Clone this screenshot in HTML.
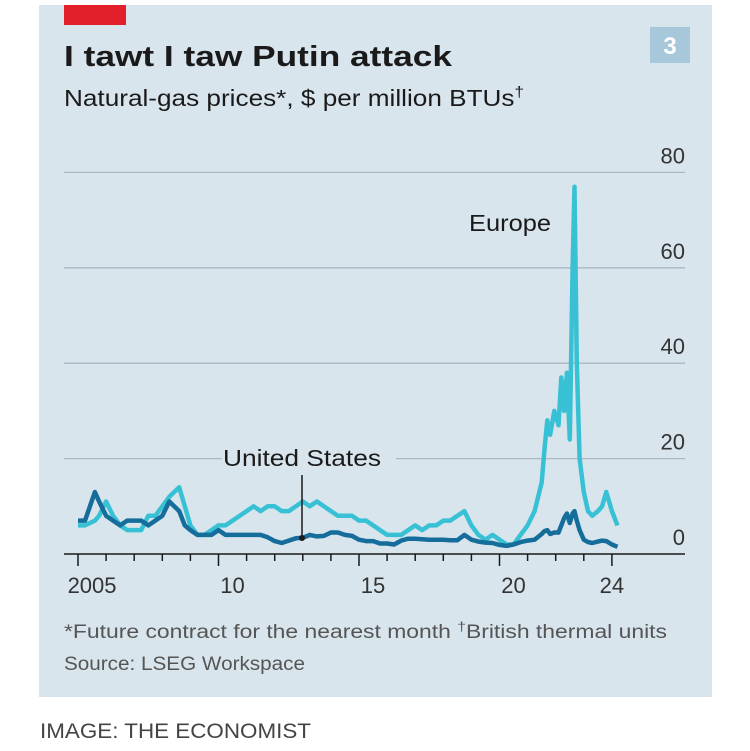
<!DOCTYPE html>
<html><head><meta charset="utf-8"><style>
html,body{margin:0;padding:0;background:#fff;}
svg{display:block;font-family:"Liberation Sans",sans-serif;}
</style></head><body>
<svg id="chart" width="750" height="751" viewBox="0 0 750 751">
<rect x="39" y="5" width="673" height="692" fill="#d8e5ed"/>
<rect x="64" y="5" width="62" height="20" fill="#e3202a"/>
<text x="64" y="66" font-size="29" font-weight="bold" fill="#1a1a1a" textLength="388" lengthAdjust="spacingAndGlyphs">I tawt I taw Putin attack</text>
<text x="64" y="106" font-size="23" fill="#1a1a1a" textLength="460" lengthAdjust="spacingAndGlyphs">Natural-gas prices*, $ per million BTUs<tspan font-size="15" dy="-9">†</tspan></text>
<rect x="650" y="27" width="40" height="36" fill="#a6c8da"/>
<text x="670" y="54" font-size="24" font-weight="bold" fill="#fff" text-anchor="middle">3</text>
<g id="grid"></g>
<g id="series"></g>
<g id="xaxis"></g>
<text x="510" y="231" font-size="23" fill="#1a1a1a" text-anchor="middle" textLength="82" lengthAdjust="spacingAndGlyphs">Europe</text>
<text x="302" y="466" font-size="23" fill="#1a1a1a" text-anchor="middle" textLength="158" lengthAdjust="spacingAndGlyphs">United States</text>
<line x1="302" y1="475" x2="302" y2="538" stroke="#1a1a1a" stroke-width="1.5"/>
<circle cx="302" cy="538" r="3" fill="#1a1a1a"/>
<text x="64" y="638" font-size="19" fill="#555" textLength="603" lengthAdjust="spacingAndGlyphs">*Future contract for the nearest month    <tspan font-size="13" dy="-7">†</tspan><tspan dy="7">British thermal units</tspan></text>
<text x="64" y="670" font-size="19" fill="#555" textLength="241" lengthAdjust="spacingAndGlyphs">Source: LSEG Workspace</text>
<text x="40" y="738" font-size="21" fill="#444" textLength="271" lengthAdjust="spacingAndGlyphs">IMAGE: THE ECONOMIST</text>
</svg>
<script>
const dates=[2005,2005.25,2005.6,2005.75,2006,2006.25,2006.5,2006.75,2007,2007.25,2007.5,2007.75,2008,2008.25,2008.6,2008.8,2009,2009.25,2009.5,2009.75,2010,2010.25,2010.5,2010.75,2011,2011.25,2011.5,2011.75,2012,2012.25,2012.5,2012.75,2013,2013.25,2013.5,2013.75,2014,2014.25,2014.5,2014.75,2015,2015.25,2015.5,2015.75,2016,2016.25,2016.5,2016.75,2017,2017.25,2017.5,2017.75,2018,2018.25,2018.5,2018.75,2019,2019.25,2019.5,2019.75,2020,2020.25,2020.5,2020.75,2021,2021.25,2021.5,2021.6,2021.7,2021.8,2021.95,2022.1,2022.2,2022.3,2022.4,2022.5,2022.6,2022.67,2022.75,2022.85,2023,2023.15,2023.3,2023.5,2023.65,2023.8,2024,2024.2];
const europe=[6,6,7,8,11,8,6,5,5,5,8,8,10,12,14,10,6,4,4,5,6,6,7,8,9,10,9,10,10,9,9,10,11,10,11,10,9,8,8,8,7,7,6,5,4,4,4,5,6,5,6,6,7,7,8,9,6,4,3,4,3,2,2,4,6,9,15,22,28,25,30,27,37,30,38,24,60,77,40,20,13,9,8,9,10,13,9,6];
const us=[7,7,13,11,8,7,6,7,7,7,6,7,8,11,9,6,5,4,4,4,5,4,4,4,4,4,4,3.5,2.7,2.3,2.8,3.3,3.4,4,3.7,3.8,4.5,4.5,4,3.8,3,2.7,2.7,2.2,2.2,2,2.8,3.2,3.2,3.1,3,3,3,2.9,2.9,4,3,2.6,2.4,2.3,1.9,1.7,2,2.5,2.8,3,4.2,4.8,5,4.2,4.5,4.5,6,7.5,8.5,6.5,8.5,9,7,5,3,2.5,2.3,2.6,2.8,2.7,2,1.5];
const yTicks=[0,20,40,60,80];
const xTickYears=[2005,2006,2007,2008,2009,2010,2011,2012,2013,2014,2015,2016,2017,2018,2019,2020,2021,2022,2023,2024];
const xLabels=["2005","10","15","20","24"];
const xLabelYears=[2005.5,2010.5,2015.5,2020.5,2024];
const NS='http://www.w3.org/2000/svg';
const X=y=>78+(y-2005)*28.1;
const Y=v=>554-v*4.77;
function mk(tag,attrs,parent){const e=document.createElementNS(NS,tag);for(const k in attrs)e.setAttribute(k,attrs[k]);parent.appendChild(e);return e;}
const grid=document.getElementById('grid');
yTicks.forEach(t=>{
  if(t>0){
    if(t===20){
      const g1=mk('line',{x1:64,x2:222,y1:Y(t),y2:Y(t),stroke:'#a9b8c1','stroke-width':1.3},grid);
      
      
      const g2=mk('line',{x1:396,x2:685,y1:Y(t),y2:Y(t),stroke:'#a9b8c1','stroke-width':1.3},grid);
      
      
    } else {
      const g=mk('line',{x1:64,x2:685,y1:Y(t),y2:Y(t),stroke:'#a9b8c1','stroke-width':1.3},grid);
      
      
    }
  }
  const l=mk('text',{x:685,y:Y(t)-9,'font-size':22,fill:'#333','text-anchor':'end'},grid);
  l.textContent=String(t);
  
  
});
const ser=document.getElementById('series');
function path(vals){return vals.map((v,i)=>(i?'L':'M')+X(dates[i]).toFixed(1)+','+Y(v).toFixed(1)).join('');}
const pe=mk('path',{d:path(europe),fill:'none',stroke:'#38c1d4','stroke-width':4.5,'stroke-linejoin':'round'},ser);


const pu=mk('path',{d:path(us),fill:'none',stroke:'#156d9c','stroke-width':4.5,'stroke-linejoin':'round'},ser);


const xa=document.getElementById('xaxis');
const ax=mk('line',{x1:64,x2:685,y1:554,y2:554,stroke:'#1a1a1a','stroke-width':1.5},xa);


xTickYears.forEach(yr=>{
  const major=(yr%5===0)||yr===2024;
  const t=mk('line',{x1:X(yr),x2:X(yr),y1:554,y2:major?566:561,stroke:'#1a1a1a','stroke-width':1.5},xa);
  
  
});
xLabels.forEach((s,i)=>{
  const l=mk('text',{x:X(xLabelYears[i]),y:593,'font-size':22,fill:'#333','text-anchor':'middle'},xa);
  l.textContent=s;
  
  
});
</script>
</body></html>
